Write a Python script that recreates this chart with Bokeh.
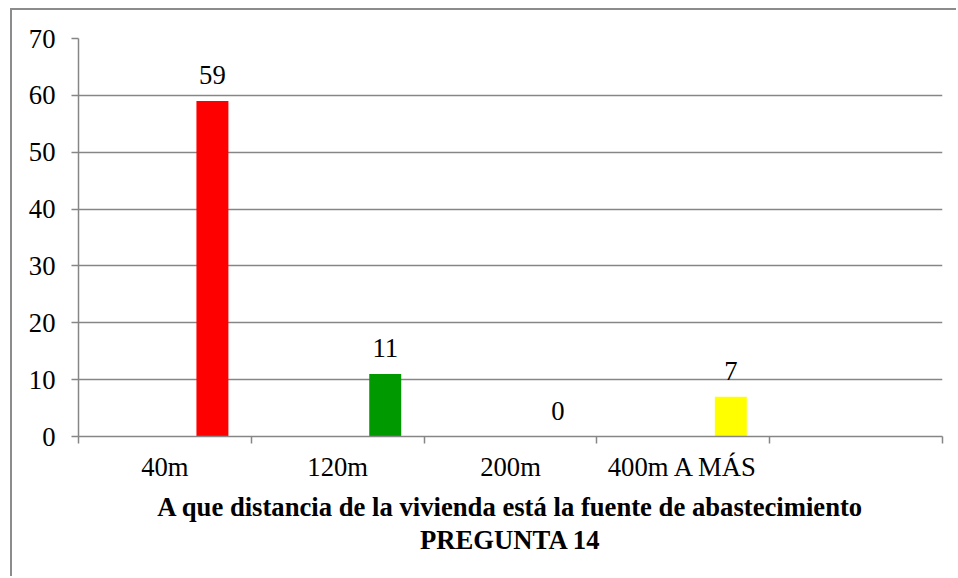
from bokeh.plotting import figure
from bokeh.models import Range1d, FixedTicker, LabelSet, ColumnDataSource
from bokeh.embed import file_html
from bokeh.resources import INLINE

# Survey answers: distance from the dwelling to the water source
categories = ["40m", "120m", "200m", "400m A MÁS"]
counts = [59, 11, 0, 7]
bar_colors = ["#FF0000", "#009900", "#FF0000", "#FFFF00"]
y_ticks = [0, 10, 20, 30, 40, 50, 60, 70]

n_slots = len(categories) + 1       # the category axis keeps one empty slot at the end
bar_shift = 0.775                   # bar sits right of the category centre
bar_width = 0.185

FONT = "Liberation Serif"
SIZE = "26.67px"
GRAY = "#868686"

src = ColumnDataSource(dict(
    x=[i + bar_shift for i in range(len(categories))],
    top=counts,
    color=bar_colors,
    label=[str(v) for v in counts],
))

p = figure(width=946, height=568, output_backend="svg", toolbar_location=None,
           x_range=Range1d(0, n_slots), y_range=Range1d(0, 70),
           min_border_left=66, min_border_right=16,
           min_border_top=28, min_border_bottom=142)
p.styles = {"margin-left": "10px", "margin-top": "8px",
            "border-left": "2px solid #8c8c8c", "border-top": "2px solid #8c8c8c"}
p.outline_line_color = None
p.background_fill_color = "white"
p.border_fill_color = "white"

p.vbar(x="x", top="top", width=bar_width, bottom=0, color="color", source=src, line_color=None)

labels = LabelSet(x="x", y="top", text="label", source=src, text_align="center",
                  text_baseline="alphabetic", y_offset=17,
                  text_font=FONT, text_font_size=SIZE, text_color="black")
p.add_layout(labels)

# x axis: category names centred in each slot, tick marks on slot boundaries
xa = p.xaxis[0]
xa.ticker = FixedTicker(ticks=[i + 0.5 for i in range(len(categories))],
                        minor_ticks=list(range(n_slots + 1)))
xa.major_label_overrides = {i + 0.5: c for i, c in enumerate(categories)}
xa.major_tick_line_color = None
xa.major_tick_out = 7
xa.major_tick_in = 0
xa.minor_tick_line_color = GRAY
xa.minor_tick_line_width = 1.5
xa.minor_tick_out = 7
xa.minor_tick_in = 0
xa.axis_line_color = GRAY
xa.axis_line_width = 1.5
xa.major_label_standoff = 8
xa.major_label_text_font = FONT
xa.major_label_text_font_size = SIZE
xa.major_label_text_color = "black"
xa.axis_label = "A que distancia de la vivienda está la fuente de abastecimiento\nPREGUNTA 14"
xa.axis_label_text_font = FONT
xa.axis_label_text_font_size = SIZE
xa.axis_label_text_font_style = "bold"
xa.axis_label_text_color = "black"
xa.axis_label_text_line_height = 1.1
xa.axis_label_standoff = 7

ya = p.yaxis[0]
ya.ticker = FixedTicker(ticks=y_ticks, minor_ticks=[])
ya.major_tick_out = 7
ya.major_tick_in = 0
ya.major_tick_line_color = GRAY
ya.major_tick_line_width = 1.5
ya.axis_line_color = GRAY
ya.axis_line_width = 1.5
ya.major_label_standoff = 16
ya.major_label_text_font = FONT
ya.major_label_text_font_size = SIZE
ya.major_label_text_color = "black"

p.xgrid.grid_line_color = None
p.ygrid.grid_line_color = GRAY
p.ygrid.grid_line_width = 1.5
p.ygrid.ticker = FixedTicker(ticks=y_ticks)

open("out.html", "w").write(file_html(p, INLINE))
